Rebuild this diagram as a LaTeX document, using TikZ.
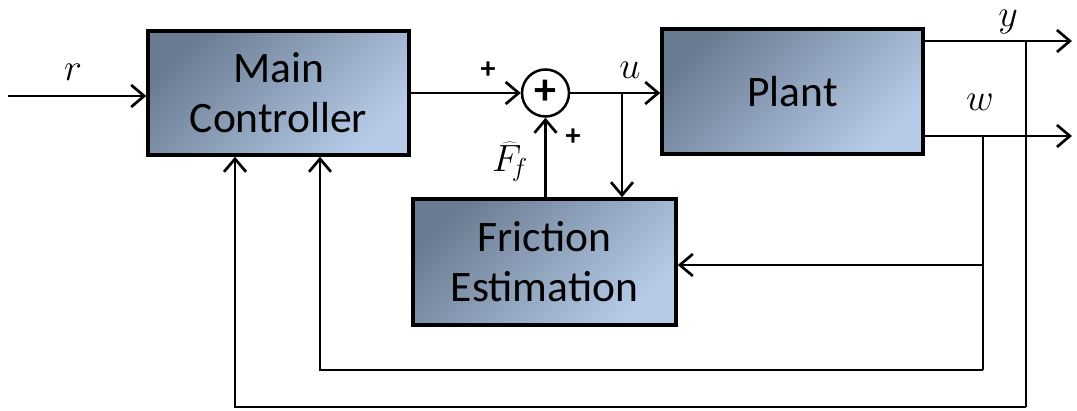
\RequirePackage{fix-cm}
\documentclass[tikz,border=0pt]{standalone}
\usepackage{fontspec}
\setmainfont{Carlito}
\usetikzlibrary{arrows.meta}
\definecolor{bdark}{HTML}{6B7C92}
\definecolor{blight}{HTML}{B6CBE8}
\DeclareMathSizes{38}{38}{26}{20}
\begin{document}
\begin{tikzpicture}[x=1pt,y=-1pt,
  block/.style={draw=black, line width=3.5pt, top color=bdark, bottom color=blight, shading angle=45,
     align=center, font=\fontsize{43.5}{50}\selectfont, inner sep=0pt},
  sumnode/.style={draw=black, circle, line width=2.5pt, minimum size=47pt, inner sep=0pt, fill=white},
  conn/.style={line width=2.7pt},
  arr/.style={conn, -{Straight Barb[length=13pt,width=22pt,line width=2.7pt]}},
  mlabel/.style={font=\fontsize{38}{40}\selectfont, inner sep=0pt},
  plabel/.style={font=\fontsize{30}{32}\selectfont\bfseries, inner sep=0pt}]
\useasboundingbox (0,0) rectangle (1077,411);
\node[block, minimum width=261pt, minimum height=124pt] (mc) at (278.5,93) {Main\\Controller};
\node[block, minimum width=261pt, minimum height=125pt] (plant) at (792.5,91.5) {Plant};
\node[block, minimum width=263pt, minimum height=126pt] (fe) at (544.5,262) {Friction\\Estimation};
\node[sumnode] (sum) at (545.5,93) {};
\node[font=\fontsize{44}{44}\selectfont\bfseries, inner sep=0pt] (sumplus) at (545.5,92) {+};
% coordinates
\coordinate (rin) at (8,96);
\coordinate (ub) at (622,93);
\coordinate (yout) at (1072,41);
\coordinate (wout) at (1072,136);
\coordinate (yv) at (1026,41);
\coordinate (ybot) at (1026,407);
\coordinate (ymc) at (235,407);
\coordinate (wv) at (983,136);
\coordinate (wbot) at (983,370);
\coordinate (wmc) at (320,370);
\coordinate (wfe) at (983,265);
% connectors
\draw[arr] (rin) -- (rin -| mc.west);
\draw[arr] (mc.east |- sum) -- (sum.west);
\draw[arr] (sum.east) -- (plant.west |- sum);
\draw[arr] (ub) -- (ub |- fe.north);
\draw[arr] (fe.north -| sum) -- (sum.south);
\draw[arr] (plant.east |- yout) -- (yout);
\draw[arr] (plant.east |- wout) -- (wout);
\draw[conn] (yv) -- (ybot);
\draw[arr] (ybot) -- (ymc) -- (ymc |- mc.south);
\draw[conn] (wv) -- (wbot);
\draw[arr] (wbot) -- (wmc) -- (wmc |- mc.south);
\draw[arr] (wfe) -- (wfe -| fe.east);
% labels
\node[mlabel] (lr) at (73,72) {$r$};
\node[plabel] (lp1) at (488,70) {+};
\node[mlabel] (lu) at (630,70) {$u$};
\node[mlabel] (lf) at (510,162) {$\widehat{F}_{\!f}$};
\node[plabel] (lp2) at (573,137) {+};
\node[mlabel] (ly) at (1008,22) {$y$};
\node[mlabel] (lw) at (980,102) {$w$};
\end{tikzpicture}
\end{document}
